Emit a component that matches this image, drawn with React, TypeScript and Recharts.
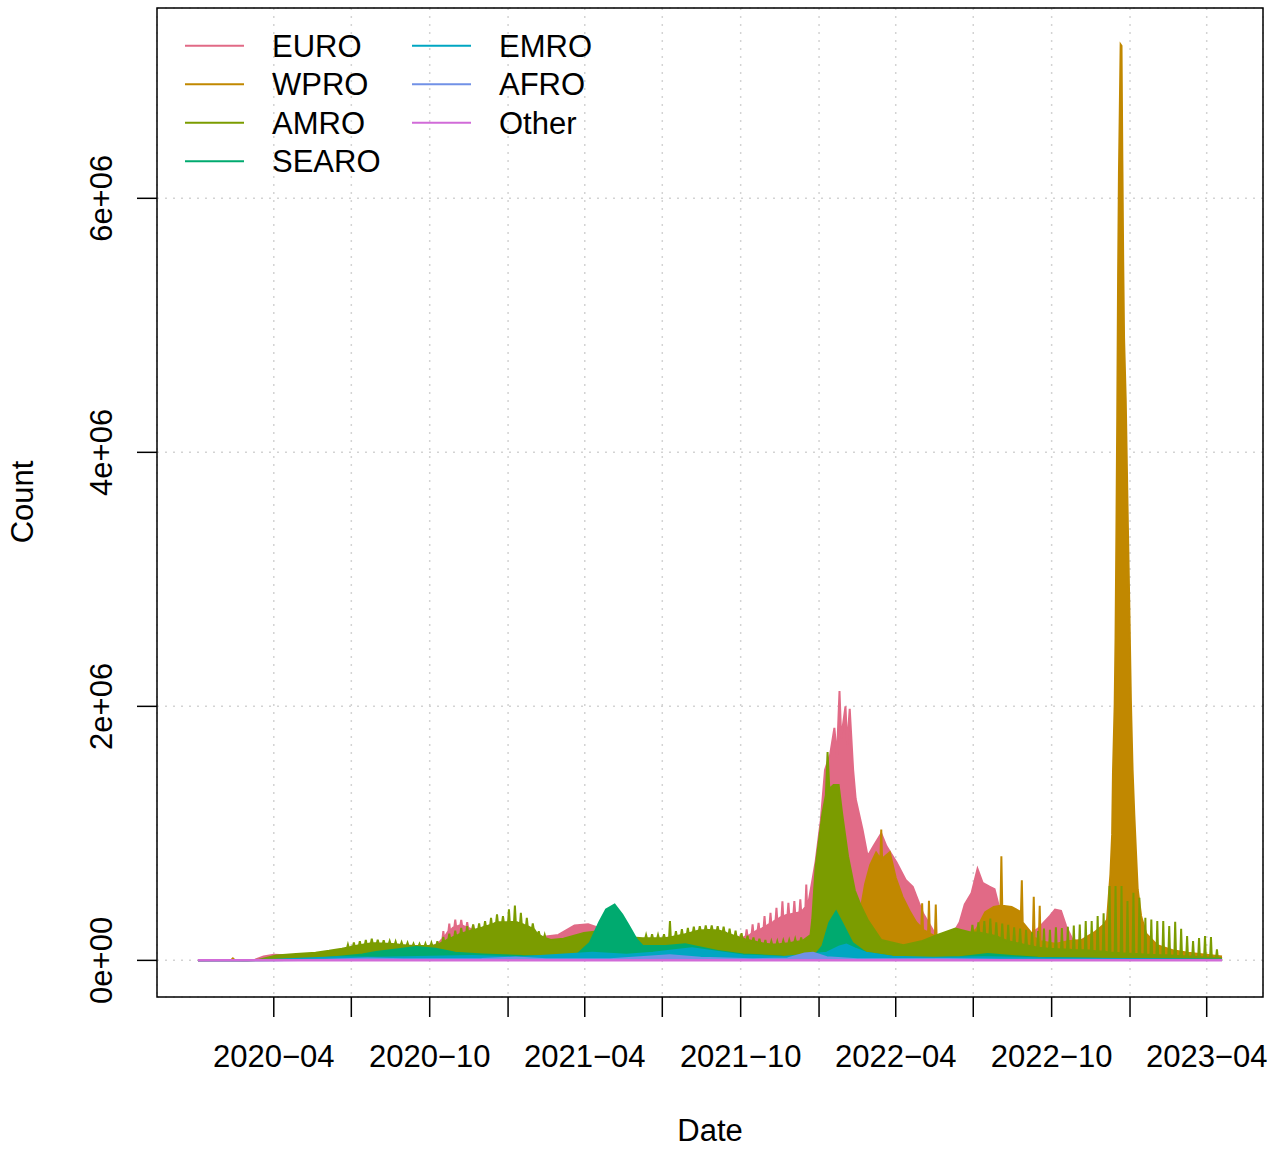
import React from 'react';
import { ComposedChart, Area, XAxis, YAxis, CartesianGrid } from 'recharts';

const FONT = '"Liberation Sans", Arial, Helvetica, sans-serif';

// series names in drawing order (later ones sit on top)
const SERIES = ['EURO', 'WPRO', 'AMRO', 'SEARO', 'EMRO', 'AFRO', 'Other'];
const COLORS = ['#E16A86', '#C18800', '#7B9C00', '#00AA6F', '#00A6C2', '#7191E6', '#D16BD8'];

const X_TICKS = [
  '2020-04-01', '2020-07-01', '2020-10-01', '2021-01-01', '2021-04-01', '2021-07-01', '2021-10-01',
  '2022-01-01', '2022-04-01', '2022-07-01', '2022-10-01', '2023-01-01', '2023-04-01',
];
const Y_TICKS = [0, 2000, 4000, 6000]; // thousands

// daily counts, in thousands (dense part of each band)
const EURO: [string, number][] = [
  ['2020-01-03', 0], ['2020-02-25', 0], ['2020-03-10', 5], ['2020-03-20', 30], ['2020-04-01', 45],
  ['2020-04-15', 40], ['2020-05-01', 30], ['2020-05-20', 20], ['2020-06-15', 18], ['2020-07-15', 25],
  ['2020-08-15', 35], ['2020-09-15', 60], ['2020-10-01', 90], ['2020-10-12', 140], ['2020-10-20', 200],
  ['2020-10-28', 255], ['2020-11-05', 275], ['2020-11-11', 265], ['2020-11-19', 245], ['2020-12-10', 230],
  ['2021-01-05', 240], ['2021-02-05', 180], ['2021-03-01', 200], ['2021-03-20', 275], ['2021-04-05', 285],
  ['2021-04-20', 250], ['2021-05-10', 170], ['2021-06-01', 100], ['2021-06-20', 80], ['2021-07-15', 165],
  ['2021-08-15', 160], ['2021-09-15', 160], ['2021-09-26', 170], ['2021-10-12', 200], ['2021-10-26', 250],
  ['2021-11-08', 300], ['2021-11-23', 355], ['2021-12-07', 375], ['2021-12-20', 470], ['2021-12-28', 780],
  ['2022-01-03', 1100], ['2022-01-08', 1500], ['2022-01-14', 1620], ['2022-01-19', 1830], ['2022-01-22', 1600],
  ['2022-01-25', 2120], ['2022-01-27', 1750], ['2022-02-01', 2000], ['2022-02-03', 1700], ['2022-02-06', 1980],
  ['2022-02-10', 1500], ['2022-02-13', 1270], ['2022-02-21', 1030], ['2022-02-27', 820], ['2022-03-06', 900],
  ['2022-03-15', 1000], ['2022-03-21', 900], ['2022-04-02', 770], ['2022-04-13', 630], ['2022-04-21', 580],
  ['2022-05-03', 370], ['2022-05-18', 200], ['2022-06-03', 160], ['2022-06-15', 300], ['2022-06-21', 440],
  ['2022-06-29', 530], ['2022-07-06', 720], ['2022-07-12', 610], ['2022-07-20', 580], ['2022-07-26', 560],
  ['2022-08-01', 400], ['2022-08-15', 250], ['2022-09-01', 180], ['2022-09-15', 250], ['2022-09-29', 350],
  ['2022-10-05', 400], ['2022-10-12', 390], ['2022-10-18', 270], ['2022-10-25', 170], ['2022-11-05', 130],
  ['2022-11-20', 100], ['2022-12-10', 80], ['2023-01-01', 70], ['2023-02-01', 55], ['2023-03-01', 45],
  ['2023-04-19', 20],
];

// weekly reporting peaks: [date, level either side, peak]
const EURO_WEEKLY: [string, number, number][] = [
  ['2020-10-17', 170, 230], ['2020-10-24', 230, 290], ['2020-10-31', 265, 320], ['2020-11-07', 275, 318],
  ['2020-11-14', 258, 300], ['2020-11-21', 240, 280],
  ['2021-10-01', 172, 204], ['2021-10-08', 190, 244], ['2021-10-15', 215, 283], ['2021-10-22', 240, 296],
  ['2021-10-29', 262, 349], ['2021-11-05', 290, 375], ['2021-11-12', 320, 414], ['2021-11-19', 345, 466],
  ['2021-11-26', 360, 453], ['2021-12-03', 370, 466], ['2021-12-10', 380, 480], ['2021-12-17', 420, 598],
];

const WPRO: [string, number][] = [
  ['2020-01-03', 0], ['2020-01-25', 2], ['2020-02-11', 3], ['2020-02-13', 15], ['2020-02-15', 3],
  ['2020-03-01', 1], ['2020-04-01', 6], ['2020-07-15', 5], ['2020-08-10', 10], ['2020-11-15', 12],
  ['2021-01-15', 20], ['2021-05-01', 20], ['2021-08-01', 40], ['2021-09-10', 30], ['2021-12-01', 25],
  ['2022-01-15', 60], ['2022-02-01', 120], ['2022-02-10', 200], ['2022-02-17', 330], ['2022-02-24', 600],
  ['2022-03-02', 750], ['2022-03-09', 850], ['2022-03-14', 800], ['2022-03-15', 1030], ['2022-03-16', 800],
  ['2022-03-25', 850], ['2022-04-01', 650], ['2022-04-09', 500], ['2022-04-18', 380], ['2022-04-25', 300],
  ['2022-05-01', 260], ['2022-05-02', 450], ['2022-05-03', 240], ['2022-05-09', 220], ['2022-05-10', 470],
  ['2022-05-11', 210], ['2022-05-17', 190], ['2022-05-18', 440], ['2022-05-19', 180], ['2022-06-05', 150],
  ['2022-06-20', 150], ['2022-07-05', 250], ['2022-07-15', 380], ['2022-07-25', 420], ['2022-08-02', 430],
  ['2022-08-03', 820], ['2022-08-04', 430], ['2022-08-15', 420], ['2022-08-26', 380], ['2022-08-27', 630],
  ['2022-08-28', 300], ['2022-09-09', 200], ['2022-09-10', 500], ['2022-09-11', 180], ['2022-09-16', 160],
  ['2022-09-17', 430], ['2022-09-18', 150], ['2022-10-05', 130], ['2022-10-20', 150], ['2022-11-05', 160],
  ['2022-11-20', 220], ['2022-12-01', 280], ['2022-12-05', 320], ['2022-12-07', 500], ['2022-12-09', 680],
  ['2022-12-11', 990], ['2022-12-12', 1480], ['2022-12-14', 2020], ['2022-12-15', 2540], ['2022-12-16', 3360],
  ['2022-12-17', 4280], ['2022-12-18', 5390], ['2022-12-19', 6200], ['2022-12-20', 6700], ['2022-12-21', 7210],
  ['2022-12-22', 7200], ['2022-12-23', 6300], ['2022-12-24', 5500], ['2022-12-25', 4900], ['2022-12-27', 4400],
  ['2022-12-29', 3600], ['2022-12-31', 2850], ['2023-01-02', 2050], ['2023-01-04', 1500], ['2023-01-06', 1150],
  ['2023-01-08', 850], ['2023-01-10', 560], ['2023-01-14', 350], ['2023-01-20', 210], ['2023-02-02', 120],
  ['2023-02-20', 80], ['2023-03-10', 60], ['2023-04-19', 30],
];

const AMRO: [string, number][] = [
  ['2020-01-03', 0], ['2020-03-01', 0], ['2020-03-15', 5], ['2020-04-04', 39], ['2020-04-27', 50],
  ['2020-05-20', 60], ['2020-06-05', 75], ['2020-06-20', 92], ['2021-02-20', 160], ['2021-03-07', 170],
  ['2021-03-31', 215], ['2021-04-17', 230], ['2021-05-01', 210], ['2021-05-20', 185], ['2021-06-08', 175],
  ['2021-12-22', 200], ['2021-12-24', 320], ['2021-12-28', 740], ['2022-01-05', 1160], ['2022-01-09', 1300],
  ['2022-01-11', 1640], ['2022-01-13', 1350], ['2022-01-18', 1380], ['2022-01-24', 1380], ['2022-01-28', 1160],
  ['2022-02-04', 820], ['2022-02-12', 550], ['2022-02-19', 430], ['2022-02-27', 320], ['2022-03-15', 160],
  ['2022-04-10', 120], ['2022-05-01', 150], ['2022-05-20', 200], ['2022-06-10', 250], ['2022-06-28', 220],
  ['2023-04-19', 15],
];

const AMRO_WEEKLY: [string, number, number][] = [
  ['2020-06-27', 100, 125], ['2020-07-04', 112, 140], ['2020-07-11', 120, 150], ['2020-07-18', 128, 160],
  ['2020-07-25', 135, 170], ['2020-08-01', 134, 162], ['2020-08-08', 132, 158], ['2020-08-15', 130, 152],
  ['2020-08-22', 127, 148], ['2020-08-29', 122, 142], ['2020-09-05', 118, 138], ['2020-09-12', 115, 132],
  ['2020-09-19', 113, 130], ['2020-09-26', 113, 132], ['2020-10-03', 116, 138], ['2020-10-10', 122, 150],
  ['2020-10-17', 145, 185], ['2020-10-24', 170, 210], ['2020-10-31', 190, 235], ['2020-11-07', 210, 255],
  ['2020-11-14', 225, 270], ['2020-11-21', 240, 283], ['2020-11-28', 250, 290], ['2020-12-05', 265, 309],
  ['2020-12-12', 280, 335], ['2020-12-19', 300, 362], ['2020-12-26', 300, 349], ['2021-01-02', 300, 401],
  ['2021-01-09', 305, 432], ['2021-01-16', 290, 375], ['2021-01-23', 270, 335], ['2021-01-30', 250, 290],
  ['2021-02-06', 200, 230], ['2021-02-13', 175, 200],
  ['2021-06-12', 175, 200], ['2021-06-19', 175, 205], ['2021-06-26', 175, 200], ['2021-07-03', 175, 205],
  ['2021-07-10', 180, 309], ['2021-07-17', 190, 230], ['2021-07-24', 200, 245], ['2021-07-31', 210, 255],
  ['2021-08-07', 225, 265], ['2021-08-14', 235, 270], ['2021-08-21', 240, 275], ['2021-08-28', 240, 275],
  ['2021-09-04', 235, 270], ['2021-09-11', 225, 265], ['2021-09-18', 205, 250], ['2021-09-25', 190, 235],
  ['2021-10-02', 175, 215], ['2021-10-09', 160, 195], ['2021-10-16', 150, 180], ['2021-10-23', 140, 170],
  ['2021-10-30', 130, 160], ['2021-11-06', 125, 150], ['2021-11-13', 125, 150], ['2021-11-20', 130, 155],
  ['2021-11-27', 135, 160], ['2021-12-04', 145, 170], ['2021-12-11', 150, 180],
  ['2022-06-30', 220, 280], ['2022-07-07', 220, 300], ['2022-07-14', 210, 310], ['2022-07-21', 200, 330],
  ['2022-07-28', 190, 300], ['2022-08-04', 170, 290], ['2022-08-11', 150, 280], ['2022-08-18', 140, 260],
  ['2022-08-25', 130, 250], ['2022-09-01', 120, 240], ['2022-09-08', 110, 220], ['2022-09-15', 100, 230],
  ['2022-09-22', 95, 250], ['2022-09-29', 90, 240], ['2022-10-06', 90, 260], ['2022-10-13', 85, 255],
  ['2022-10-20', 85, 265], ['2022-10-27', 80, 275], ['2022-11-03', 80, 283], ['2022-11-10', 80, 309],
  ['2022-11-17', 75, 309], ['2022-11-24', 70, 349], ['2022-12-01', 70, 370], ['2022-12-08', 60, 585],
  ['2022-12-15', 60, 585], ['2022-12-22', 55, 585], ['2022-12-29', 55, 467], ['2023-01-05', 50, 532],
  ['2023-01-12', 50, 493], ['2023-01-19', 45, 335], ['2023-01-26', 45, 322], ['2023-02-02', 40, 309],
  ['2023-02-09', 40, 309], ['2023-02-16', 40, 270], ['2023-02-23', 35, 304], ['2023-03-02', 35, 249],
  ['2023-03-09', 30, 191], ['2023-03-16', 30, 152], ['2023-03-23', 25, 176], ['2023-03-30', 25, 191],
  ['2023-04-06', 20, 183], ['2023-04-13', 20, 86],
];

const SEARO: [string, number][] = [
  ['2020-01-03', 0], ['2020-03-15', 0], ['2020-04-15', 2], ['2020-05-15', 8], ['2020-06-17', 29],
  ['2020-07-14', 47], ['2020-07-30', 66], ['2020-08-23', 86], ['2020-09-15', 105], ['2020-10-08', 92],
  ['2020-10-31', 60], ['2020-12-02', 47], ['2021-01-18', 34], ['2021-02-27', 29], ['2021-03-23', 47],
  ['2021-04-07', 139], ['2021-04-18', 300], ['2021-04-26', 400], ['2021-05-06', 440], ['2021-05-15', 360],
  ['2021-05-23', 270], ['2021-06-01', 165], ['2021-06-08', 113], ['2021-07-05', 113], ['2021-07-28', 126],
  ['2021-08-12', 105], ['2021-09-04', 73], ['2021-10-04', 47], ['2021-11-20', 29], ['2021-12-25', 21],
  ['2022-01-05', 113], ['2022-01-13', 296], ['2022-01-21', 385], ['2022-01-28', 296], ['2022-02-09', 139],
  ['2022-02-25', 60], ['2022-03-28', 29], ['2022-05-01', 15], ['2022-06-15', 25], ['2022-07-18', 50],
  ['2022-08-15', 35], ['2022-09-15', 20], ['2022-12-01', 10], ['2023-04-19', 5],
];

const EMRO: [string, number][] = [
  ['2020-01-03', 0], ['2020-03-01', 1], ['2020-04-01', 5], ['2020-06-15', 25], ['2020-08-01', 20],
  ['2020-11-20', 35], ['2021-01-15', 25], ['2021-04-10', 60], ['2021-05-20', 45], ['2021-06-20', 60],
  ['2021-07-15', 80], ['2021-08-05', 95], ['2021-09-01', 70], ['2021-10-04', 39], ['2021-11-20', 26],
  ['2022-01-10', 60], ['2022-01-25', 110], ['2022-02-02', 125], ['2022-02-12', 95], ['2022-02-25', 60],
  ['2022-03-28', 29], ['2022-05-15', 20], ['2022-07-15', 25], ['2022-10-01', 15], ['2023-04-19', 5],
];

const AFRO: [string, number][] = [
  ['2020-01-03', 0], ['2020-04-01', 1], ['2020-06-01', 5], ['2020-07-20', 15], ['2020-09-01', 8],
  ['2020-12-01', 10], ['2021-01-10', 22], ['2021-02-15', 8], ['2021-05-01', 8], ['2021-07-10', 40],
  ['2021-08-15', 20], ['2021-10-15', 8], ['2021-11-25', 15], ['2021-12-15', 55], ['2021-12-25', 60],
  ['2022-01-10', 25], ['2022-02-15', 8], ['2022-06-01', 10], ['2022-08-01', 5], ['2023-04-19', 2],
];

const OTHER: [string, number][] = [
  ['2020-01-03', 0], ['2021-06-01', 1], ['2022-06-01', 1], ['2023-04-19', 0],
];

const toDay = (s: string) =>
  Date.UTC(+s.slice(0, 4), +s.slice(5, 7) - 1, +s.slice(8, 10)) / 86400000;

function buildTable() {
  const rows = new Map<number, any>();
  const put = (name: string, t: number, v: number) => {
    if (!rows.has(t)) rows.set(t, { t });
    rows.get(t)[name] = v;
  };
  const lists: [string, [string, number][]][] = [
    ['EURO', EURO], ['WPRO', WPRO], ['AMRO', AMRO], ['SEARO', SEARO],
    ['EMRO', EMRO], ['AFRO', AFRO], ['Other', OTHER],
  ];
  lists.forEach(([name, pts]) => pts.forEach(([d, v]) => put(name, toDay(d), v)));
  const weekly: [string, [string, number, number][]][] = [['EURO', EURO_WEEKLY], ['AMRO', AMRO_WEEKLY]];
  weekly.forEach(([name, pts]) =>
    pts.forEach(([d, low, high]) => {
      const t = toDay(d);
      put(name, t - 1, low);
      put(name, t, high);
      put(name, t + 1, low);
    }),
  );
  const out = Array.from(rows.values()).sort((a, b) => a.t - b.t);
  out.forEach((r) => SERIES.forEach((s) => { if (r[s] === undefined) r[s] = null; }));
  return out;
}

const table = buildTable();

const allT = table.map((r) => r.t);
const tMin = Math.min(...allT);
const tMax = Math.max(...allT);
const xPad = (tMax - tMin) * 0.04;
const yMax = Math.max(...WPRO.map((p) => p[1]));
const yPad = yMax * 0.04;

const fmtY = (v: number) => (v === 0 ? '0e+00' : `${v / 1000}e+06`);

const XTick = (props: any) => {
  const { x, payload } = props;
  const d = new Date(payload.value * 86400000);
  const m = d.getUTCMonth() + 1;
  if (m !== 4 && m !== 10) return <g />;
  const label = `${d.getUTCFullYear()}\u2212${String(m).padStart(2, '0')}`;
  return (
    <text x={x} y={1067} textAnchor="middle" fontSize={31} fontFamily={FONT} fill="#000">
      {label}
    </text>
  );
};

const YTick = (props: any) => {
  const { y, payload } = props;
  return (
    <text
      x={112}
      y={y}
      transform={`rotate(-90 112 ${y})`}
      textAnchor="middle"
      fontSize={31}
      fontFamily={FONT}
      fill="#000"
    >
      {fmtY(payload.value)}
    </text>
  );
};

const LEGEND_ROWS = [45.7, 84.2, 122.7, 161.2];

const App = () => {
  return (
    <div style={{ position: 'absolute', left: 0, top: 0, width: 1282, height: 1149, background: '#fff' }}>
      <ComposedChart
        width={1282}
        height={1149}
        data={table}
        margin={{ top: 8, right: 19, bottom: 0, left: 0 }}
      >
        <CartesianGrid stroke="#D3D3D3" strokeDasharray="2 6" strokeWidth={1.5} />
        <XAxis
          type="number"
          dataKey="t"
          domain={[tMin - xPad, tMax + xPad]}
          allowDataOverflow
          ticks={X_TICKS.map(toDay)}
          interval={0}
          height={152}
          axisLine={false}
          tickSize={20}
          tickLine={{ stroke: '#000', strokeWidth: 1.5 }}
          tick={XTick}
        />
        <YAxis
          type="number"
          domain={[-yPad, yMax + yPad]}
          allowDataOverflow
          ticks={Y_TICKS}
          interval={0}
          width={157}
          axisLine={false}
          tickSize={20}
          tickLine={{ stroke: '#000', strokeWidth: 1.5 }}
          tick={YTick}
        />
        {SERIES.map((s, i) => (
          <Area
            key={s}
            type="linear"
            dataKey={s}
            stroke={COLORS[i]}
            strokeWidth={s === 'Other' ? 2.5 : 2}
            fill={COLORS[i]}
            fillOpacity={1}
            baseValue={0}
            connectNulls
            dot={false}
            activeDot={false}
            isAnimationActive={false}
          />
        ))}
      </ComposedChart>
      <svg
        width={1282}
        height={1149}
        style={{ position: 'absolute', left: 0, top: 0, pointerEvents: 'none' }}
      >
        <rect x={157} y={8} width={1106} height={989} fill="none" stroke="#000" strokeWidth={1.5} />
        {SERIES.map((s, i) => {
          const col = i < 4 ? 0 : 1;
          const row = i < 4 ? i : i - 4;
          const x0 = col === 0 ? 185 : 412;
          const y = LEGEND_ROWS[row];
          return (
            <g key={s}>
              <line x1={x0} x2={x0 + 59} y1={y} y2={y} stroke={COLORS[i]} strokeWidth={2} />
              <text x={x0 + 87} y={y + 11} fontSize={31} fontFamily={FONT} fill="#000">
                {s}
              </text>
            </g>
          );
        })}
        <text x={710} y={1141} textAnchor="middle" fontSize={31} fontFamily={FONT} fill="#000">
          Date
        </text>
        <text
          x={33}
          y={502}
          transform="rotate(-90 33 502)"
          textAnchor="middle"
          fontSize={31}
          fontFamily={FONT}
          fill="#000"
        >
          Count
        </text>
      </svg>
    </div>
  );
};

export default App;
